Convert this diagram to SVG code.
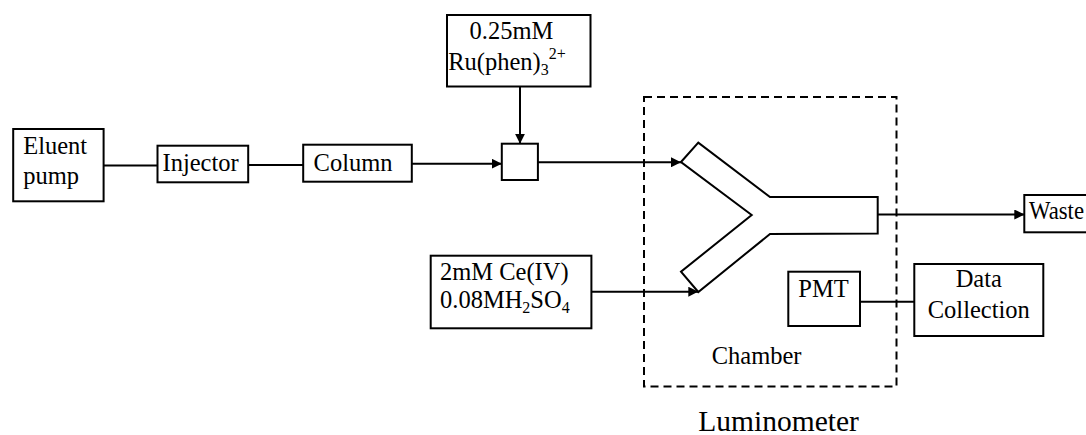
<svg xmlns="http://www.w3.org/2000/svg" width="1086" height="435" viewBox="0 0 1086 435">
<style>
.box{fill:#fff;stroke:#000;stroke-width:2}
.ln{fill:none;stroke:#000;stroke-width:2}
.t{font-family:"Liberation Serif","Times New Roman",serif;font-size:24.5px;fill:#000}
.big{font-size:29.5px}
.s{font-size:16px}
.dash{fill:none;stroke:#000;stroke-width:2;stroke-dasharray:8 5}
</style>
<defs>
<marker id="ah" viewBox="0 0 10 10" refX="10" refY="5" markerWidth="10" markerHeight="10" markerUnits="userSpaceOnUse" orient="auto">
<path d="M0,0 L10,5 L0,10 Z" fill="#000"/>
</marker>
</defs>
<rect width="1086" height="435" fill="#fff"/>

<g id="luminometer">
<rect class="dash" x="644" y="97" width="252.5" height="289.5"/>
<text class="t big" x="698.3" y="430.5">Luminometer</text>
</g>

<g id="chamber">
<path class="ln" d="M681,162 L698.3,142.7 L770,197 L877.7,197 L877.7,233.5 L770,234 L698.3,292 L681,271.7 L751.7,215 Z" fill="#fff"/>
<text class="t" x="711.7" y="364">Chamber</text>
</g>

<g id="connectors">
<line class="ln" x1="103.6" y1="165.5" x2="157.5" y2="165.5"/>
<line class="ln" x1="248.2" y1="165" x2="303.2" y2="165"/>
<line class="ln" x1="411.8" y1="163.7" x2="501.8" y2="163.7" marker-end="url(#ah)"/>
<line class="ln" x1="520" y1="86.5" x2="520" y2="143.7" marker-end="url(#ah)"/>
<line class="ln" x1="537.9" y1="162.3" x2="681" y2="162.3" marker-end="url(#ah)"/>
<line class="ln" x1="591.4" y1="291.7" x2="698.3" y2="291.7" marker-end="url(#ah)"/>
<line class="ln" x1="877.7" y1="214.5" x2="1024.3" y2="214.5" marker-end="url(#ah)"/>
<line class="ln" x1="860" y1="301.7" x2="914.3" y2="301.7"/>
</g>

<g id="eluent-pump">
<rect class="box" x="13.2" y="129" width="90.4" height="72.3"/>
<text class="t" x="23.2" y="154">Eluent</text>
<text class="t" x="23.2" y="184">pump</text>
</g>

<g id="injector">
<rect class="box" x="157.5" y="145.7" width="90.7" height="36.6"/>
<text class="t" x="162.5" y="170.7">Injector</text>
</g>

<g id="column">
<rect class="box" x="303.2" y="144.7" width="108.6" height="37"/>
<text class="t" x="313.6" y="170.7">Column</text>
</g>

<g id="mixer">
<rect class="box" x="501.8" y="143.7" width="36.1" height="36.3"/>
</g>

<g id="ru-reagent">
<rect class="box" x="447" y="15" width="143.5" height="71.5"/>
<text class="t" x="469.6" y="39">0.25mM</text>
<text class="t" x="448.2" y="70">Ru(phen)<tspan class="s" dy="5">3</tspan><tspan class="s" dy="-16">2+</tspan></text>
</g>

<g id="ce-reagent">
<rect class="box" x="430.7" y="255.7" width="160.7" height="72.6"/>
<text class="t" x="440" y="280">2mM Ce(IV)</text>
<text class="t" x="440" y="308.3">0.08MH<tspan class="s" dy="5">2</tspan><tspan dy="-5">SO</tspan><tspan class="s" dy="5">4</tspan></text>
</g>

<g id="waste">
<rect class="box" x="1024.3" y="195" width="80" height="37.3"/>
<text class="t" x="1029" y="219" textLength="55" lengthAdjust="spacingAndGlyphs">Waste</text>
</g>

<g id="pmt">
<rect class="box" x="788.3" y="271.7" width="71.7" height="54.3"/>
<text class="t" x="798.3" y="296.7">PMT</text>
</g>

<g id="data-collection">
<rect class="box" x="914.3" y="264" width="129" height="72"/>
<text class="t" x="978.8" y="287.3" text-anchor="middle">Data</text>
<text class="t" x="978.8" y="318.3" text-anchor="middle">Collection</text>
</g>
</svg>
